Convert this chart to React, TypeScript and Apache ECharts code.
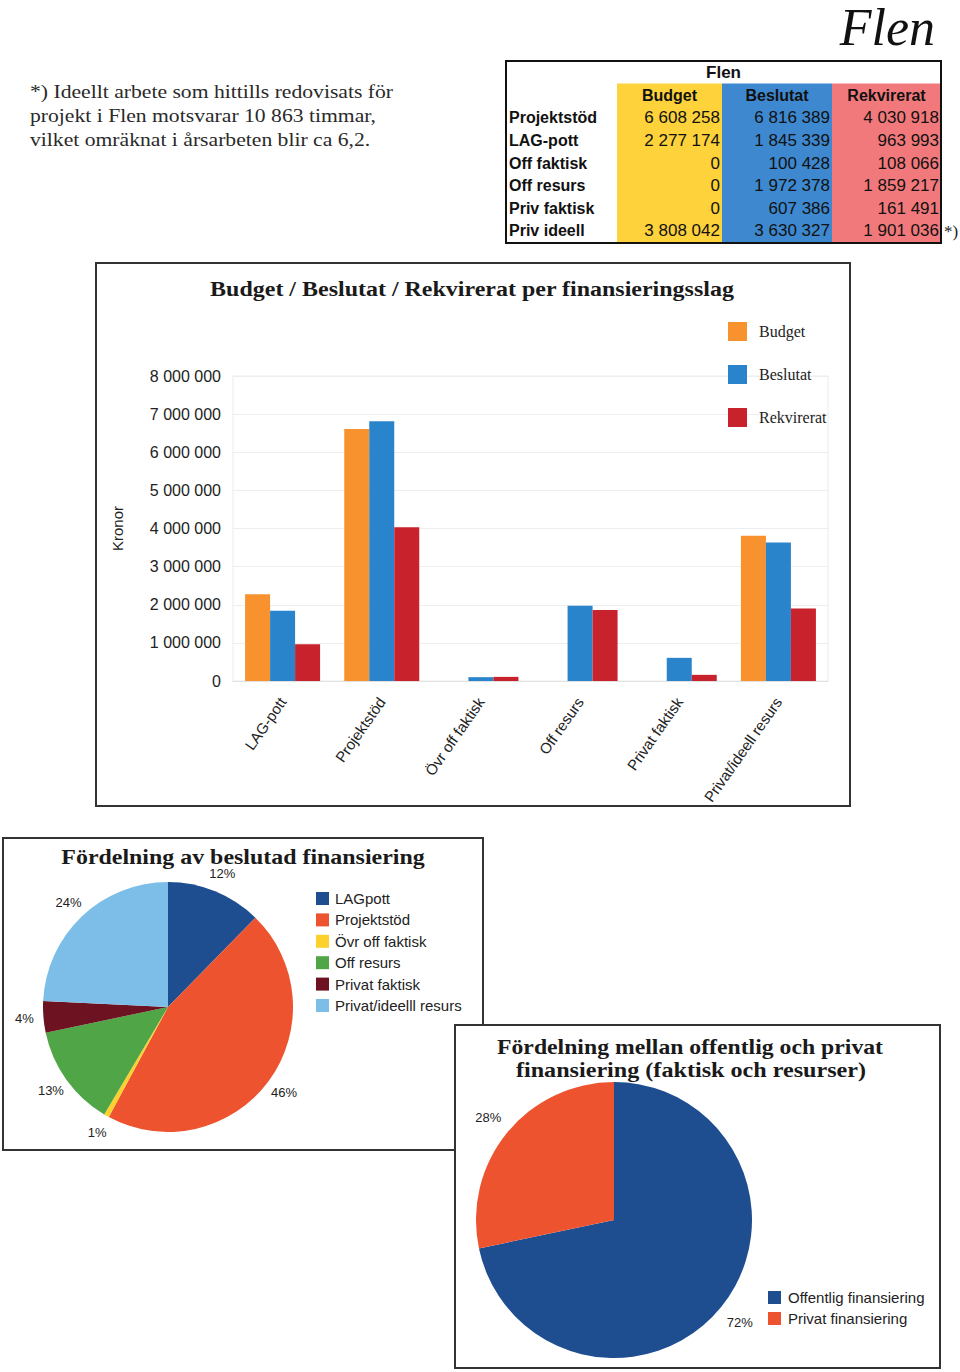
import React, { useEffect, useRef } from "react";
import * as echarts from "echarts";

const categories = ["LAG-pott", "Projektstöd", "Övr off faktisk", "Off resurs", "Privat faktisk", "Privat/ideell resurs"];
const budget = [2277174, 6608258, 0, 0, 0, 3808042];
const beslutat = [1845339, 6816389, 100428, 1972378, 607386, 3630327];
const rekvirerat = [963993, 4030918, 108066, 1859217, 161491, 1901036];
const yTicks = [0, 1000000, 2000000, 3000000, 4000000, 5000000, 6000000, 7000000, 8000000];

const tableRows = ["Projektstöd", "LAG-pott", "Off faktisk", "Off resurs", "Priv faktisk", "Priv ideell"];
const tableBudget = [6608258, 2277174, 0, 0, 0, 3808042];
const tableBeslutat = [6816389, 1845339, 100428, 1972378, 607386, 3630327];
const tableRekvirerat = [4030918, 963993, 108066, 1859217, 161491, 1901036];
const tableHeaders = ["Budget", "Beslutat", "Rekvirerat"];

const pie1Names = ["LAGpott", "Projektstöd", "Övr off faktisk", "Off resurs", "Privat faktisk", "Privat/ideelll resurs"];
const pie1Values = [1845339, 6816389, 100428, 1972378, 607386, 3630327];
const pie2Names = ["Offentlig finansiering", "Privat finansiering"];
const pie2Values = [10734534, 4237713];

const noteLines = [
  "*) Ideellt arbete som hittills redovisats för",
  "projekt i Flen motsvarar 10 863 timmar,",
  "vilket omräknat i årsarbeten blir ca 6,2.",
];

const SERIF = "'Liberation Serif', 'Times New Roman', serif";
const SANS = "'Liberation Sans', Arial, Helvetica, sans-serif";

const barColors = ["#F7922F", "#2A84CC", "#C8222C"];
const pie1Colors = ["#1E4E90", "#EE532F", "#FCD12E", "#50A647", "#6C1220", "#7DBEE8"];
const pie2Colors = ["#1E4E90", "#EE532F"];
const tableColColors = ["#FDD23A", "#3D88CF", "#F2797B"];

const fmt = (n: number) => String(n).replace(/\B(?=(\d{3})+(?!\d))/g, " ");

function buildGraphics() {
  const g: any[] = [];
  // Title Flen
  g.push({
    type: "text", x: 935, y: 27,
    style: { text: "Flen", font: `italic 52px ${SERIF}`, lineHeight: 54, fill: "#111", align: "right", verticalAlign: "middle" },
  });
  // Note
  noteLines.forEach((t, i) => {
    g.push({
      type: "text", x: 30, y: 91 + i * 24, scaleX: 1.14,
      style: { text: t, font: `19px ${SERIF}`, fill: "#2a2a2a", align: "left", verticalAlign: "middle" },
    });
  });
  // Table
  const tL = 506, tR = 941, tT = 61;
  const colX = [617, 722, 832, 941];
  const titleH = 22.5, headH = 23, rowH = 22.6;
  const headTop = tT + titleH;
  const bodyTop = headTop + headH;
  const tB = bodyTop + rowH * tableRows.length + 1;
  for (let c = 0; c < 3; c++) {
    g.push({
      type: "rect", shape: { x: colX[c], y: headTop, width: colX[c + 1] - colX[c], height: tB - headTop },
      style: { fill: tableColColors[c] },
    });
  }
  g.push({
    type: "rect", shape: { x: tL, y: tT, width: tR - tL, height: tB - tT },
    style: { fill: "none", stroke: "#111", lineWidth: 2 },
  });
  g.push({
    type: "text", x: (tL + tR) / 2, y: tT + titleH / 2,
    style: { text: "Flen", font: `bold 17px ${SANS}`, fill: "#111", align: "center", verticalAlign: "middle" },
  });
  tableHeaders.forEach((h, c) => {
    g.push({
      type: "text", x: (colX[c] + colX[c + 1]) / 2, y: headTop + headH / 2,
      style: { text: h, font: `bold 16px ${SANS}`, fill: "#111", align: "center", verticalAlign: "middle" },
    });
  });
  const cols = [tableBudget, tableBeslutat, tableRekvirerat];
  tableRows.forEach((r, i) => {
    const y = bodyTop + rowH * i + rowH / 2;
    g.push({
      type: "text", x: tL + 3, y,
      style: { text: r, font: `bold 16px ${SANS}`, fill: "#111", align: "left", verticalAlign: "middle" },
    });
    cols.forEach((col, c) => {
      g.push({
        type: "text", x: colX[c + 1] - 2, y,
        style: { text: fmt(col[i]), font: `17px ${SANS}`, fill: "#111", align: "right", verticalAlign: "middle" },
      });
    });
  });
  g.push({
    type: "text", x: 944, y: bodyTop + rowH * 5 + rowH / 2 + 1,
    style: { text: "*)", font: `17px ${SERIF}`, fill: "#222", align: "left", verticalAlign: "middle" },
  });

  // Bar chart box
  g.push({
    type: "rect", shape: { x: 96, y: 263, width: 754, height: 543 },
    style: { fill: "none", stroke: "#333", lineWidth: 2 },
  });
  g.push({
    type: "text", x: 472, y: 288, scaleX: 1.09,
    style: { text: "Budget / Beslutat / Rekvirerat per finansieringsslag", font: `bold 22px ${SERIF}`, fill: "#1a1a1a", align: "center", verticalAlign: "middle" },
  });

  // Pie 1 box
  g.push({
    type: "rect", shape: { x: 3, y: 838, width: 480, height: 312 },
    style: { fill: "#fff", stroke: "#333", lineWidth: 2 },
  });
  g.push({
    type: "text", x: 243, y: 857, scaleX: 1.087,
    style: { text: "Fördelning av beslutad finansiering", font: `bold 22px ${SERIF}`, fill: "#1a1a1a", align: "center", verticalAlign: "middle" },
  });

  // Pie 2 box
  g.push({
    type: "rect", shape: { x: 455, y: 1025, width: 485, height: 343 },
    style: { fill: "#fff", stroke: "#333", lineWidth: 2 },
  });
  g.push({
    type: "text", x: 690, y: 1047, scaleX: 1.13,
    style: { text: "Fördelning mellan offentlig och privat", font: `bold 21px ${SERIF}`, fill: "#1a1a1a", align: "center", verticalAlign: "middle" },
  });
  g.push({
    type: "text", x: 691, y: 1070, scaleX: 1.15,
    style: { text: "finansiering (faktisk och resurser)", font: `bold 21px ${SERIF}`, fill: "#1a1a1a", align: "center", verticalAlign: "middle" },
  });
  return g;
}

export default function App() {
  const ref = useRef<HTMLDivElement>(null);
  useEffect(() => {
    if (!ref.current) return;
    const chart = echarts.init(ref.current, undefined, { renderer: "svg" });
    const pctLabel = (p: any) => `${Math.round(p.percent)}%`;
    const pieLabelRing = (center: number[], r0: number, r1: number, names: string[], values: number[]) => ({
      type: "pie", center, radius: [r0, r1], startAngle: 90, clockwise: true, silent: true,
      avoidLabelOverlap: false, z: 1,
      data: names.map((n, i) => ({ name: n, value: values[i], itemStyle: { color: "rgba(0,0,0,0)" } })),
      label: { show: true, position: "inside", formatter: pctLabel, fontFamily: SANS, fontSize: 13, color: "#222" },
      labelLine: { show: false },
      emphasis: { disabled: true },
      tooltip: { show: false },
    });
    chart.setOption({
      animation: false,
      backgroundColor: "#fff",
      graphic: { elements: buildGraphics() },
      legend: [
        {
          orient: "vertical", left: 728, top: 322, padding: 0, itemWidth: 19, itemHeight: 19, itemGap: 24,
          icon: "rect", data: ["Budget", "Beslutat", "Rekvirerat"],
          textStyle: { fontFamily: SERIF, fontSize: 16, color: "#222", padding: [0, 0, 0, 7] },
          selectedMode: false,
        },
        {
          orient: "vertical", left: 316, top: 891, padding: 0, itemWidth: 13, itemHeight: 13, itemGap: 6.4,
          icon: "rect", data: pie1Names,
          textStyle: { fontFamily: SANS, fontSize: 15, color: "#222", padding: [0, 0, 0, 1] },
          selectedMode: false,
        },
        {
          orient: "vertical", left: 768, top: 1290, padding: 0, itemWidth: 13, itemHeight: 13, itemGap: 6,
          icon: "rect", data: pie2Names,
          textStyle: { fontFamily: SANS, fontSize: 15, color: "#222", padding: [0, 0, 0, 2] },
          selectedMode: false,
        },
      ],
      grid: {
        left: 233, right: 132, top: 376, bottom: 691,
        show: true, borderColor: "#ececec", borderWidth: 1,
      },
      xAxis: {
        type: "category", data: categories,
        axisLine: { show: true, lineStyle: { color: "#e2e2e2" } },
        axisTick: { show: false },
        axisLabel: { rotate: 55, fontFamily: SANS, fontSize: 15, color: "#222", margin: 18, interval: 0 },
      },
      yAxis: {
        type: "value", min: yTicks[0], max: yTicks[yTicks.length - 1], interval: 1000000,
        name: "Kronor", nameLocation: "middle", nameRotate: 90, nameGap: 108,
        nameTextStyle: { fontFamily: SANS, fontSize: 15, color: "#222" },
        axisLine: { show: false }, axisTick: { show: false },
        splitLine: { lineStyle: { color: "#eeeeee" } },
        axisLabel: { formatter: (v: number) => fmt(v), fontFamily: SANS, fontSize: 16, color: "#222", margin: 12 },
      },
      series: [
        { type: "bar", name: "Budget", data: budget, barWidth: 25, barGap: "0%", itemStyle: { color: barColors[0] } },
        { type: "bar", name: "Beslutat", data: beslutat, barWidth: 25, barGap: "0%", itemStyle: { color: barColors[1] } },
        { type: "bar", name: "Rekvirerat", data: rekvirerat, barWidth: 25, barGap: "0%", itemStyle: { color: barColors[2] } },
        {
          type: "pie", center: [168, 1007], radius: 125, startAngle: 90, clockwise: true,
          avoidLabelOverlap: false,
          data: pie1Names.map((n, i) => ({ name: n, value: pie1Values[i], itemStyle: { color: pie1Colors[i] } })),
          label: { show: false },
          labelLine: { show: false },
          emphasis: { disabled: true },
        },
        {
          type: "pie", center: [614, 1220], radius: 138, startAngle: 90, clockwise: true,
          avoidLabelOverlap: false,
          data: pie2Names.map((n, i) => ({ name: n, value: pie2Values[i], itemStyle: { color: pie2Colors[i] } })),
          label: { show: false },
          labelLine: { show: false },
          emphasis: { disabled: true },
        },
        pieLabelRing([168, 1007], 124, 158, pie1Names, pie1Values),
        pieLabelRing([614, 1220], 142, 176, pie2Names, pie2Values),
      ],
    });
    return () => chart.dispose();
  }, []);
  return (
    <div
      ref={ref}
      style={{ position: "absolute", left: 0, top: 0, width: 960, height: 1372, background: "#fff" }}
    />
  );
}
